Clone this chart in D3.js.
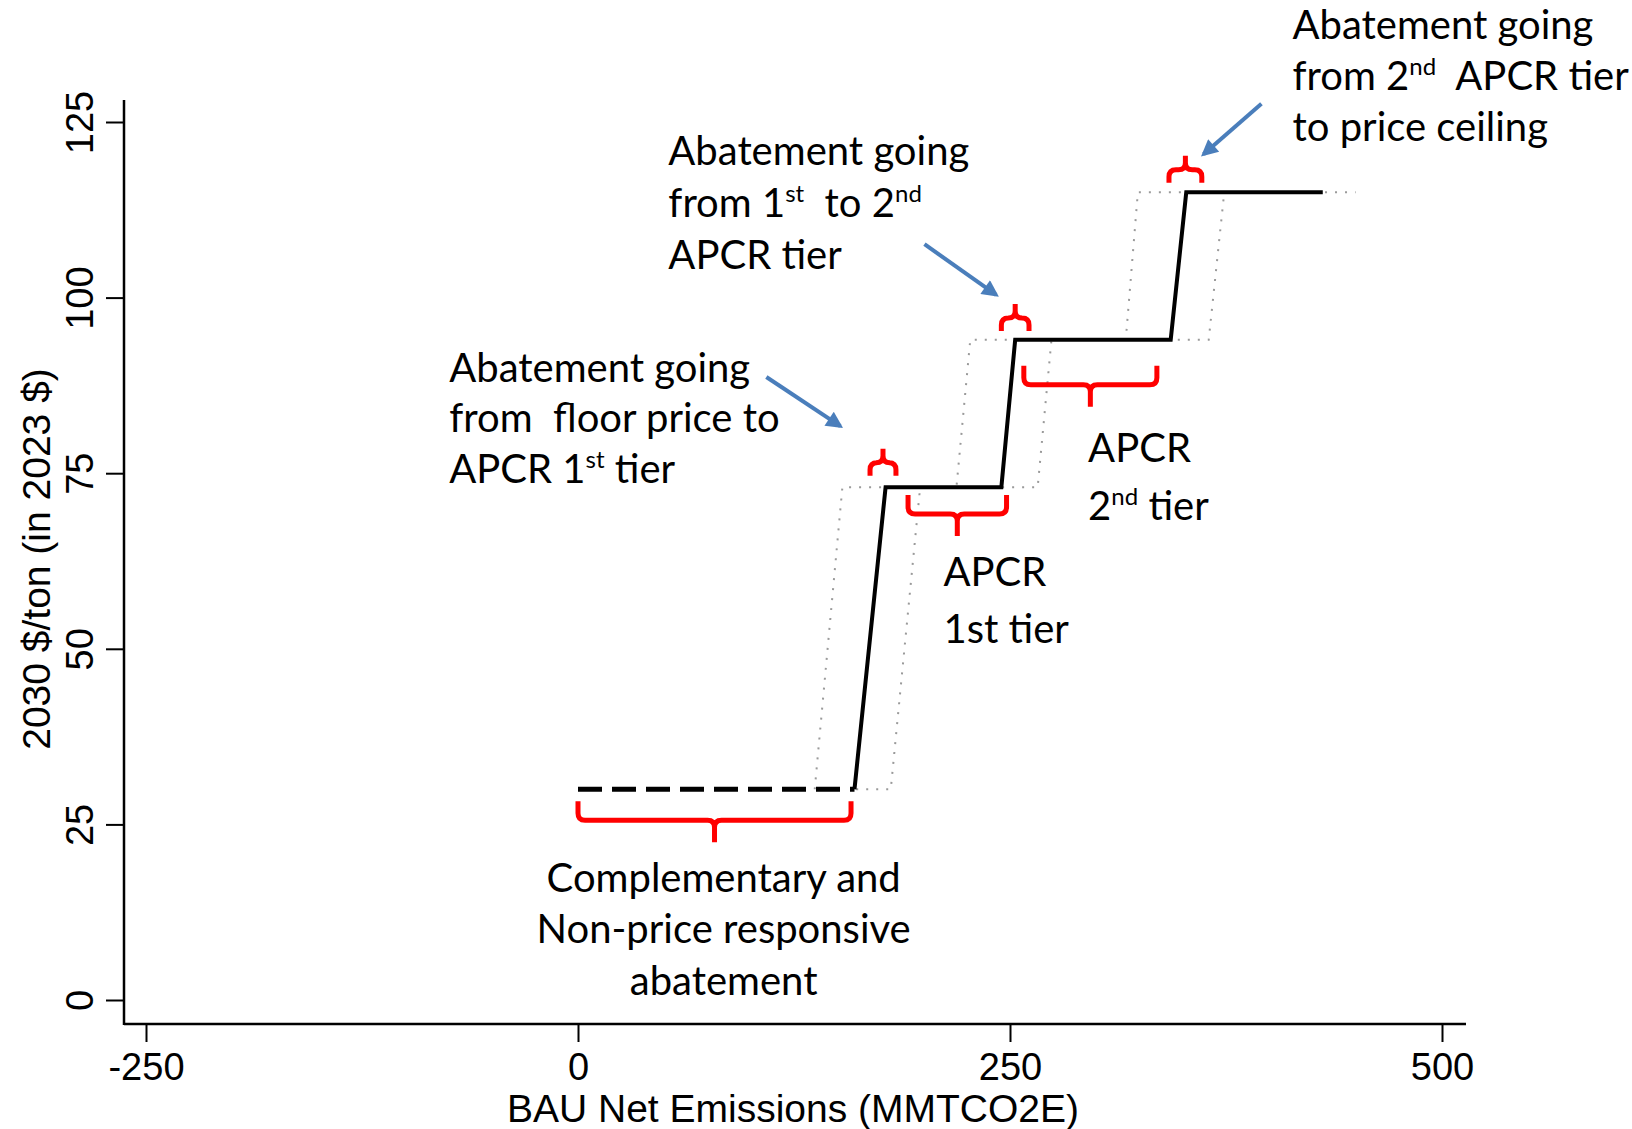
<!DOCTYPE html>
<html>
<head>
<meta charset="utf-8">
<script src="https://cdn.jsdelivr.net/npm/d3@7"></script>
<style>
  body { margin: 0; background: #fff; }
  svg { display: block; }
</style>
</head>
<body>
<div id="chart"></div>
<script>
const width = 1632;
const height = 1129;

// step curve (price vs emissions)
const floorX = [0, 160];
const floorY = [30, 30];
const mainX = [160, 178, 245, 253, 343, 352, 431];
const mainY = [30, 73, 73, 94, 94, 115, 115];
const lowX = [137, 153, 219, 227, 317, 324, 352];
const lowY = [30, 73, 73, 94, 94, 115, 115];
const highX = [161, 181, 198, 266, 274, 365, 374, 450];
const highY = [30, 30, 73, 73, 94, 94, 115, 115];

const xTicks = [-250, 0, 250, 500];
const yTicks = [0, 25, 50, 75, 100, 125];

// red braces: start, end, level, 1 = tip pointing down
const braceX0 = [0, 191, 258, 169, 245, 342];
const braceX1 = [158, 248, 335, 184, 261, 361];
const braceY = [25.6, 69.2, 87.6, 76.5, 97.1, 118.2];
const braceDir = [1, 1, 1, -1, -1, -1];

// blue arrows (from -> to, data units)
const arrowX0 = [109, 200.5, 395.5];
const arrowY0 = [88.7, 107.6, 127.6];
const arrowX1 = [151.8, 242, 362];
const arrowY1 = [81.7, 100.4, 120.4];

// annotation texts; [text, superscript, rest] parts per line
const noteLines = [
    [["Abatement going"], ["from  floor price to"], ["APCR 1", "st", " tier"]],
    [["Abatement going"], ["from 1", "st", "  to 2", "nd"], ["APCR tier"]],
    [["Abatement going"], ["from 2", "nd", "  APCR tier"], ["to price ceiling"]],
    [["APCR"], ["1st tier"]],
    [["APCR"], ["2", "nd", " tier"]],
    [["Complementary and"], ["Non-price responsive"], ["abatement"]]
];
const noteX = [-74.5, 52.3, 413.5, 211.5, 295.2, 84.3];
const noteY = [88.0, 118.9, 136.8, 58.9, 76.6, 15.4];

const noteAnchor = ["start", "start", "start", "start", "start", "middle"];
const noteLeading = [50.5, 52, 51, 57, 58, 51.5];

const svg = d3.select("#chart")
    .append("svg")
    .attr("width", width)
    .attr("height", height);

const x = d3.scaleLinear().domain([-250, 500]).range([146, 1442]);
const y = d3.scaleLinear().domain([0, 125]).range([1000, 122]);

const axisFont = "'Liberation Sans', Arial, sans-serif";
const noteFont = "Lato, 'Open Sans', sans-serif";

// axes
const xAxis = svg.append("g")
    .attr("transform", "translate(0,1024)")
    .call(d3.axisBottom(x).tickValues(xTicks).tickSize(18).tickSizeOuter(0)
        .tickFormat(d => String(d)));
xAxis.select(".domain").remove();
xAxis.selectAll(".tick line").attr("stroke", "#000").attr("stroke-width", 2);
xAxis.selectAll(".tick text")
    .attr("y", 56).attr("dy", 0)
    .style("font-family", axisFont)
    .style("font-size", "38px")
    .attr("fill", "#000");

const yAxis = svg.append("g")
    .attr("transform", "translate(124,0)")
    .call(d3.axisLeft(y).tickValues(yTicks).tickSize(18).tickSizeOuter(0));
yAxis.select(".domain").remove();
yAxis.selectAll(".tick line").attr("stroke", "#000").attr("stroke-width", 2);
yAxis.selectAll(".tick text")
    .attr("x", 0).attr("dy", 0)
    .attr("text-anchor", "middle")
    .attr("transform", "translate(-31,0) rotate(-90)")
    .style("font-family", axisFont)
    .style("font-size", "38px")
    .attr("fill", "#000");

// axis lines
svg.append("line")
    .attr("x1", 124).attr("x2", 1466)
    .attr("y1", 1024).attr("y2", 1024)
    .attr("stroke", "#000").attr("stroke-width", 2.5);
svg.append("line")
    .attr("x1", 124).attr("x2", 124)
    .attr("y1", 100).attr("y2", 1025)
    .attr("stroke", "#000").attr("stroke-width", 2.5);

// axis titles
svg.append("text")
    .attr("x", 793).attr("y", 1122)
    .attr("text-anchor", "middle")
    .style("font-family", axisFont)
    .style("font-size", "39px")
    .text("BAU Net Emissions (MMTCO2E)");

svg.append("text")
    .attr("transform", "translate(50,559) rotate(-90)")
    .attr("text-anchor", "middle")
    .style("font-family", axisFont)
    .style("font-size", "39px")
    .text("2030 $/ton (in 2023 $)");

// curves
const line = d3.line().x(d => x(d[0])).y(d => y(d[1]));
const pts = (xs, ys) => xs.map((v, i) => [v, ys[i]]);

[pts(lowX, lowY), pts(highX, highY)].forEach(p => {
    svg.append("path")
        .attr("d", line(p))
        .attr("fill", "none")
        .attr("stroke", "#9a9a9a")
        .attr("stroke-width", 2)
        .attr("stroke-dasharray", "2,8");
});

svg.append("path")
    .attr("d", line(pts(floorX, floorY)))
    .attr("fill", "none")
    .attr("stroke", "#000")
    .attr("stroke-width", 5)
    .attr("stroke-dasharray", "24,10");

svg.append("path")
    .attr("d", line(pts(mainX, mainY)))
    .attr("fill", "none")
    .attr("stroke", "#000")
    .attr("stroke-width", 4)
    .attr("stroke-linejoin", "miter");

// braces
function bracePath(x0, x1, yy, dir) {
    const big = dir > 0 && (x1 - x0) > 30;
    const arm = (big ? 19 : 13) * dir;
    const tip = (big ? 22 : 14) * dir;
    const r = 7;
    const xm = (x0 + x1) / 2;
    return `M${x0},${yy - arm} L${x0},${yy - r * dir} Q${x0},${yy} ${x0 + r},${yy}` +
        ` L${xm - r},${yy} Q${xm},${yy} ${xm},${yy + r * dir} L${xm},${yy + tip}` +
        ` M${xm},${yy + r * dir} Q${xm},${yy} ${xm + r},${yy}` +
        ` L${x1 - r},${yy} Q${x1},${yy} ${x1},${yy - r * dir} L${x1},${yy - arm}`;
}

svg.selectAll(".brace")
    .data(braceX0.map((v, i) => i))
    .enter()
    .append("path")
    .attr("class", "brace")
    .attr("d", i => bracePath(x(braceX0[i]), x(braceX1[i]), y(braceY[i]), braceDir[i]))
    .attr("fill", "none")
    .attr("stroke", "#ff0000")
    .attr("stroke-width", 5)
    .attr("stroke-linecap", "butt");

// arrows
svg.append("defs").append("marker")
    .attr("id", "head")
    .attr("viewBox", "0 0 10 10")
    .attr("refX", 8).attr("refY", 5)
    .attr("markerWidth", 5).attr("markerHeight", 4.2)
    .attr("markerUnits", "strokeWidth")
    .attr("orient", "auto")
    .append("path")
    .attr("d", "M0,0 L10,5 L0,10 Z")
    .attr("fill", "#4a7ebb");

arrowX0.forEach((v, i) => {
    svg.append("line")
        .attr("x1", x(v)).attr("y1", y(arrowY0[i]))
        .attr("x2", x(arrowX1[i])).attr("y2", y(arrowY1[i]))
        .attr("stroke", "#4a7ebb")
        .attr("stroke-width", 4)
        .attr("marker-end", "url(#head)");
});

// notes
noteLines.forEach((lines, i) => {
    const t = svg.append("text")
        .attr("text-anchor", noteAnchor[i])
        .style("font-family", noteFont)
        .style("font-size", "40px")
        .style("white-space", "pre")
        .attr("fill", "#000");
    lines.forEach((parts, j) => {
        const row = t.append("tspan")
            .attr("x", x(noteX[i]))
            .attr("y", y(noteY[i]) + j * noteLeading[i]);
        parts.forEach((p, k) => {
            const sup = k % 2 === 1;
            row.append("tspan")
                .attr("dy", sup ? -15 : (k > 0 ? 15 : 0))
                .style("font-size", sup ? "24px" : "40px")
                .text(p);
        });
    });
});
</script>
</body>
</html>
